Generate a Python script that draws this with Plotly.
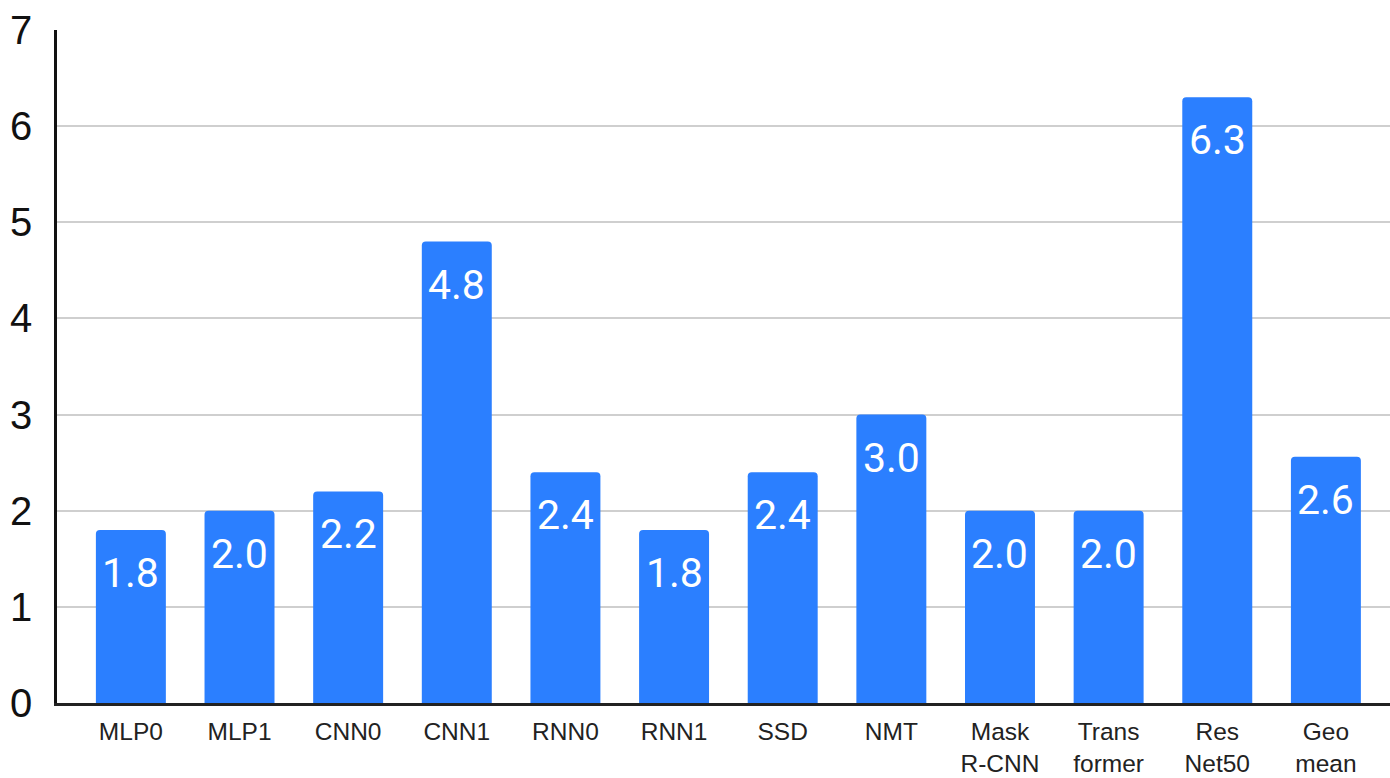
import plotly.graph_objects as go

categories = ["MLP0", "MLP1", "CNN0", "CNN1", "RNN0", "RNN1", "SSD", "NMT",
              "Mask<br>R-CNN", "Trans<br>former", "Res<br>Net50", "Geo<br>mean"]
speedup = [1.8, 2.0, 2.2, 4.8, 2.4, 1.8, 2.4, 3.0, 2.0, 2.0, 6.3, 2.56]
y_ticks = [0, 1, 2, 3, 4, 5, 6, 7]

BAR_COLOR = "#2B7FFF"

fig = go.Figure(
    go.Bar(
        x=categories,
        y=speedup,
        marker=dict(color=BAR_COLOR, cornerradius=4, line=dict(width=0)),
        hoverinfo="skip",
    )
)

# value labels inside the top of each bar
for cat, val in zip(categories, speedup):
    fig.add_annotation(
        x=cat, y=val, text=f"{val:.1f}", showarrow=False,
        yanchor="top", yshift=-17,
        font=dict(family="Roboto, Arial, sans-serif", size=41, color="white"),
    )

fig.update_layout(
    width=1390, height=778,
    margin=dict(l=57, r=0, t=30, b=75),
    paper_bgcolor="white", plot_bgcolor="white",
    bargap=0.356,
    showlegend=False,
    font=dict(family="Arial, Liberation Sans, sans-serif", color="#222222"),
)

fig.update_xaxes(
    range=[-0.68, 11.59], automargin=False,
    showline=True, linecolor="#222222", linewidth=2.5,
    tickfont=dict(size=24.5, color="#222222"),
    ticks="", ticklabelstandoff=5,
    showgrid=False,
)
fig.update_yaxes(
    range=[0, 7], tickvals=y_ticks, automargin=False,
    showline=True, linecolor="#111111", linewidth=2.5,
    showgrid=True, gridcolor="#CFCFCF", gridwidth=2,
    zeroline=False,
    tickfont=dict(size=40, color="#111111"),
    ticks="", ticklabelstandoff=14,
)

fig.write_html("out.html")
